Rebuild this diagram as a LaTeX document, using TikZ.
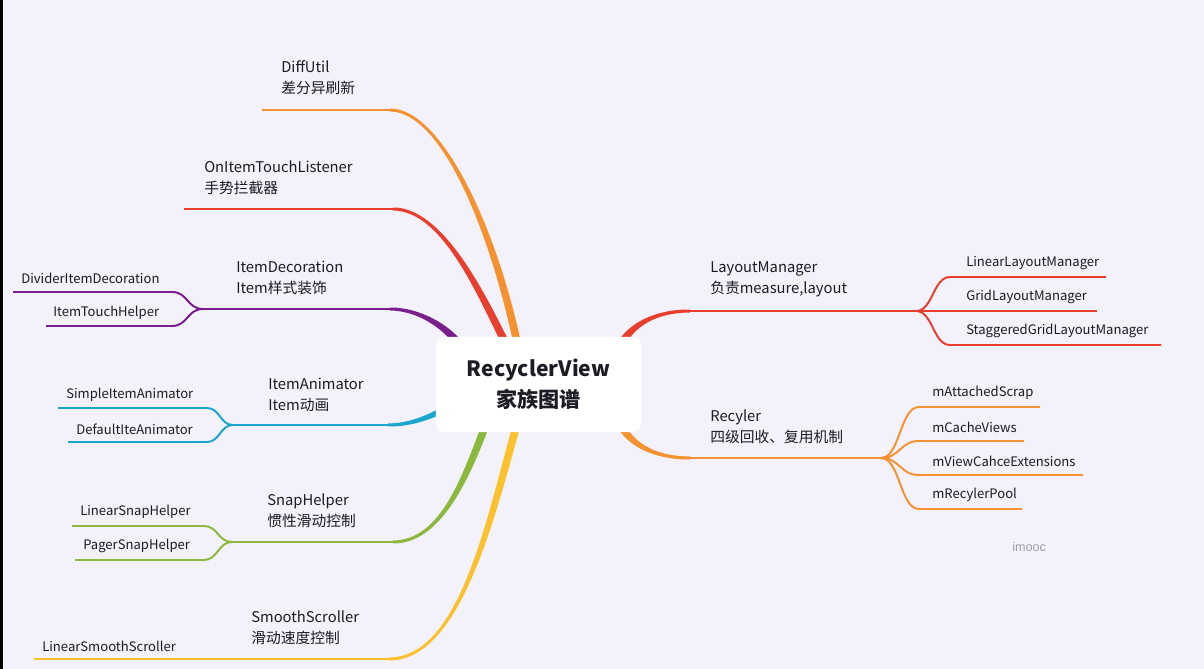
\documentclass[tikz,border=0pt]{standalone}
\usepackage{fontspec}
\setmainfont{Noto Sans CJK SC}
\newfontfamily\markfont{Liberation Sans}
\usepackage{xcolor}
\usepackage{tikz}
\usetikzlibrary{calc}
\definecolor{canvas}{RGB}{243, 241, 250}
\definecolor{ink}{RGB}{28, 28, 36}
\definecolor{orangeline}{RGB}{245, 146, 47}
\definecolor{redline}{RGB}{232, 62, 46}
\definecolor{purpleline}{RGB}{122, 30, 140}
\definecolor{cyanline}{RGB}{26, 166, 206}
\definecolor{greenline}{RGB}{141, 184, 62}
\definecolor{yellowline}{RGB}{251, 193, 45}
\definecolor{markgray}{RGB}{158, 156, 168}

% tapered trunk: colour, flat end, control 1, control 2, end at the box, half width at the box
\newcommand{\drawtrunk}[6]{%
  \fill[#1] ($(#2)+(0,-1.5)$) .. controls ($(#3)+(0,-1.8)$) and ($(#4)+#6$) .. ($(#5)+#6$)
    -- ($(#5)-#6$) .. controls ($(#4)-#6$) and ($(#3)+(0,1.8)$) .. ($(#2)+(0,1.5)$) -- cycle;}

\begin{document}
\begin{tikzpicture}[
    x=0.025cm, y=-0.025cm,
    root/.style={rectangle, fill=white, rounded corners=6pt, minimum width=5.125cm,
                 minimum height=2.375cm, align=center, text=ink,
                 font=\fontsize{15}{22}\selectfont\bfseries},
    topic/.style={anchor=west, align=left, inner sep=0pt, text=ink,
                  font=\fontsize{10.5}{15}\selectfont},
    leaf/.style={anchor=west, inner sep=0pt, text=ink, font=\fontsize{9.3}{11}\selectfont},
    branch/.style={line width=2.1pt},
    twig/.style={line width=1.4pt}
]

% Canvas
\fill[canvas] (0,0) rectangle (1204,669);
\fill[black] (0,0) rectangle (3,669);
\useasboundingbox (0,0) rectangle (1204,669);

% DiffUtil
\coordinate (diffStart) at (262,110);
\coordinate (diffH) at (390,110);
\coordinate (diffB) at (517,342);
\drawtrunk{orangeline}{diffH}{440,110}{491,222}{diffB}{(3.7,-0.8)}
\draw[branch, orangeline] (diffStart) -- (diffH);
\node[topic] (diff) at (281,77.5) {DiffUtil\\差分异刷新};

% OnItemTouchListener
\coordinate (touchStart) at (184,209);
\coordinate (touchH) at (393,209);
\coordinate (touchB) at (505,342);
\drawtrunk{redline}{touchH}{442,209}{480,292}{touchB}{(3.4,-1.7)}
\draw[branch, redline] (touchStart) -- (touchH);
\node[topic] (touch) at (204,177.5) {OnItemTouchListener\\手势拦截器};

% ItemDecoration
\coordinate (decoFork) at (203,309);
\coordinate (decoH) at (390,309);
\coordinate (decoB) at (459,344);
\coordinate (dividerEnd) at (13,292);
\coordinate (helperEnd) at (46,326);
\drawtrunk{purpleline}{decoH}{420,309}{447,328}{decoB}{(2.8,-2.5)}
\draw[branch, purpleline] (decoFork) -- (decoH);
\draw[twig, purpleline] (decoFork) .. controls +(-16,0) and +(16,0) .. (172,292) -- (dividerEnd);
\draw[twig, purpleline] (decoFork) .. controls +(-16,0) and +(16,0) .. (172,326) -- (helperEnd);
\node[topic] (deco) at (236,277.5) {ItemDecoration\\Item样式装饰};
\node[leaf] (divider) at (21,278) {DividerItemDecoration};
\node[leaf] (helper) at (53,313) {ItemTouchHelper};

% ItemAnimator
\coordinate (animFork) at (233,425);
\coordinate (animH) at (388,425);
\coordinate (animB) at (449,407);
\coordinate (simpleEnd) at (58,408);
\coordinate (defaultEnd) at (68,442);
\drawtrunk{cyanline}{animH}{412,425}{432,416}{animB}{(-1.5,-2.6)}
\draw[branch, cyanline] (animFork) -- (animH);
\draw[twig, cyanline] (animFork) .. controls +(-13,0) and +(13,0) .. (207,408) -- (simpleEnd);
\draw[twig, cyanline] (animFork) .. controls +(-13,0) and +(13,0) .. (207,442) -- (defaultEnd);
\node[topic] (anim) at (268,394.5) {ItemAnimator\\Item动画};
\node[leaf] (simple) at (66,395) {SimpleItemAnimator};
\node[leaf] (default) at (76,429) {DefaultIteAnimator};

% SnapHelper
\coordinate (snapFork) at (232,542);
\coordinate (snapH) at (393,542);
\coordinate (snapB) at (486,424);
\coordinate (linSnapEnd) at (72,526);
\coordinate (pagerEnd) at (75,560);
\drawtrunk{greenline}{snapH}{440,542}{465,480}{snapB}{(-3.6,-1.3)}
\draw[branch, greenline] (snapFork) -- (snapH);
\draw[twig, greenline] (snapFork) .. controls +(-14,0) and +(14,0) .. (204,526) -- (linSnapEnd);
\draw[twig, greenline] (snapFork) .. controls +(-14,0) and +(14,0) .. (204,560) -- (pagerEnd);
\node[topic] (snap) at (267,510.5) {SnapHelper\\惯性滑动控制};
\node[leaf] (linSnap) at (80,512) {LinearSnapHelper};
\node[leaf] (pager) at (83,546) {PagerSnapHelper};

% SmoothScroller
\coordinate (smoothFork) at (200,659);
\coordinate (smoothH) at (389,659);
\coordinate (smoothB) at (517,424);
\coordinate (linSmoothEnd) at (34,659);
\drawtrunk{yellowline}{smoothH}{460,659}{490,520}{smoothB}{(-3.7,-1.05)}
\draw[branch, yellowline] (smoothFork) -- (smoothH);
\draw[branch, yellowline] (smoothFork) -- (linSmoothEnd);
\node[topic] (smooth) at (251,627.5) {SmoothScroller\\滑动速度控制};
\node[leaf] (linSmooth) at (42,646) {LinearSmoothScroller};

% LayoutManager
\coordinate (layoutH) at (690,311);
\coordinate (layoutB) at (620,346);
\coordinate (layoutFork) at (916,311);
\coordinate (linLayoutEnd) at (1106,277);
\coordinate (gridEnd) at (1097,311);
\coordinate (stagEnd) at (1161,345);
\drawtrunk{redline}{layoutH}{655,311}{631,325}{layoutB}{(-3.4,-1.7)}
\draw[branch, redline] (layoutH) -- (layoutFork);
\draw[twig, redline] (layoutFork) .. controls +(17,0) and +(-17,0) .. (950,277) -- (linLayoutEnd);
\draw[twig, redline] (layoutFork) -- (gridEnd);
\draw[twig, redline] (layoutFork) .. controls +(17,0) and +(-17,0) .. (950,345) -- (stagEnd);
\node[topic] (layout) at (710,279.5) {LayoutManager\\负责measure,layout};
\node[leaf] (linLayout) at (966,263) {LinearLayoutManager};
\node[leaf] (grid) at (966,297) {GridLayoutManager};
\node[leaf] (stag) at (966,331) {StaggeredGridLayoutManager};

% Recyler
\coordinate (recyH) at (690,458);
\coordinate (recyB) at (620,424);
\coordinate (recyFork) at (881,458);
\coordinate (attachedEnd) at (1040,407);
\coordinate (cacheEnd) at (1024,441);
\coordinate (extEnd) at (1083,475);
\coordinate (poolEnd) at (1022,509);
\drawtrunk{orangeline}{recyH}{655,458}{631,445}{recyB}{(3.4,-1.7)}
\draw[branch, orangeline] (recyH) -- (recyFork);
\draw[twig, orangeline] (recyFork) .. controls +(19,0) and +(-19,0) .. (919,407) -- (attachedEnd);
\draw[twig, orangeline] (recyFork) .. controls +(19,0) and +(-19,0) .. (919,441) -- (cacheEnd);
\draw[twig, orangeline] (recyFork) .. controls +(19,0) and +(-19,0) .. (919,475) -- (extEnd);
\draw[twig, orangeline] (recyFork) .. controls +(19,0) and +(-19,0) .. (919,509) -- (poolEnd);
\node[topic] (recy) at (710,426.5) {Recyler\\四级回收、复用机制};
\node[leaf] (attached) at (932,393) {mAttachedScrap};
\node[leaf] (cache) at (932,427) {mCacheViews};
\node[leaf] (ext) at (932,461) {mViewCahceExtensions};
\node[leaf] (pool) at (932,495) {mRecylerPool};

% Root
\node[root] (root) at (538.5,384.5) {RecyclerView\\家族图谱};

% Watermark
\node[anchor=west, inner sep=0pt, text=markgray, font=\markfont\fontsize{9}{11}\selectfont] (mark) at (1012,547) {imooc};

\end{tikzpicture}
\end{document}
